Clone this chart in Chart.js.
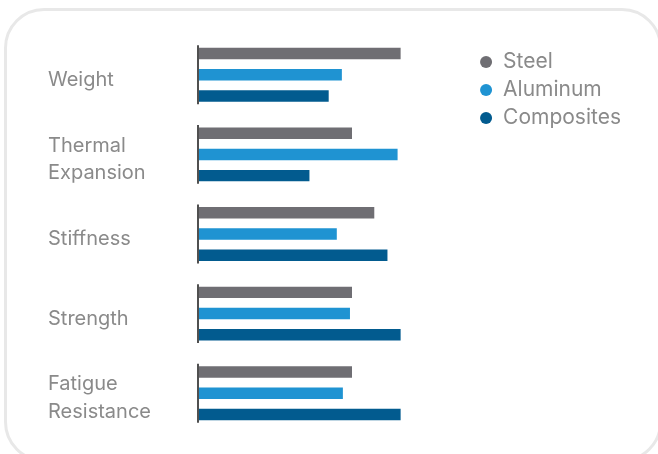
<!DOCTYPE html>
<html>
<head>
<meta charset="utf-8">
<script src="https://cdn.jsdelivr.net/npm/chart.js@4.4.1/dist/chart.umd.min.js"></script>
<style>
  html, body { margin: 0; padding: 0; background: #fff; }
  body { width: 658px; height: 454px; position: relative; overflow: hidden; }
  .card {
    position: absolute; left: 4px; top: 8px; width: 652px; height: 448px;
    border: 3px solid #e8e8e8; border-radius: 40px; background: #fff;
  }
  #wrap { position: absolute; left: 0; top: 0; width: 658px; height: 454px; }
</style>
</head>
<body>
<div class="card"></div>
<div id="wrap"><canvas id="materials"></canvas></div>
<script>
// rough ratings (0-10)
var categories = [['Weight'], ['Thermal', 'Expansion'], ['Stiffness'], ['Strength'], ['Fatigue', 'Resistance']];
var steel = [10, 7.6, 8.7, 7.6, 7.6];
var aluminum = [7.1, 9.85, 6.85, 7.5, 7.15];
var composites = [6.45, 5.5, 9.35, 10, 10];

// short axis line next to each group of bars
var groupLines = {
    id: 'groupLines',
    afterDatasetsDraw: function (chart) {
        var y = chart.scales.y;
        var ctx = chart.ctx;
        var half = y.height / categories.length * 0.37;
        ctx.save();
        ctx.strokeStyle = '#505050';
        ctx.lineWidth = 2;
        categories.forEach(function (c, i) {
            var cy = y.getPixelForValue(i);
            ctx.beginPath();
            ctx.moveTo(chart.chartArea.left, cy - half);
            ctx.lineTo(chart.chartArea.left, cy + half);
            ctx.stroke();
        });
        ctx.restore();
    }
};

var ctx = document.getElementById('materials').getContext('2d');
var chart = new Chart(ctx, {
    type: 'bar',
    data: {
        labels: categories,
        datasets: [{
            label: 'Steel',
            data: steel,
            backgroundColor: '#6f6e73'
        },
        {
            label: 'Aluminum',
            data: aluminum,
            backgroundColor: '#1f93d2'
        },
        {
            label: 'Composites',
            data: composites,
            backgroundColor: '#025b8f'
        }]
    },
    options: {
        indexAxis: 'y',
        responsive: true,
        maintainAspectRatio: false,
        animation: false,
        datasets: {
            bar: { categoryPercentage: 0.8, barPercentage: 0.54 }
        },
        layout: {
            padding: { left: 48, top: 35, bottom: 21, right: 27 }
        },
        scales: {
            x: {
                min: 0,
                max: 13.55,
                display: false
            },
            y: {
                grid: { display: false },
                border: { display: false },
                afterFit: function (scale) { scale.width = 150; },
                ticks: {
                    crossAlign: 'far',
                    labelOffset: 5,
                    color: '#8a8a8a',
                    font: { family: 'Inter', size: 20, lineHeight: 1.38 }
                }
            }
        },
        plugins: {
            tooltip: { enabled: false },
            legend: {
                position: 'right',
                align: 'start',
                maxWidth: 220,
                title: { display: true, text: ' ', padding: 0, font: { size: 9.5, lineHeight: 1 } },
                labels: {
                    usePointStyle: true,
                    pointStyle: 'circle',
                    boxWidth: 13,
                    boxHeight: 8.5,
                    padding: 7,
                    color: '#8a8a8a',
                    font: { family: 'Inter', size: 21 }
                }
            }
        }
    },
    plugins: [groupLines]
})
</script>
</body>
</html>
